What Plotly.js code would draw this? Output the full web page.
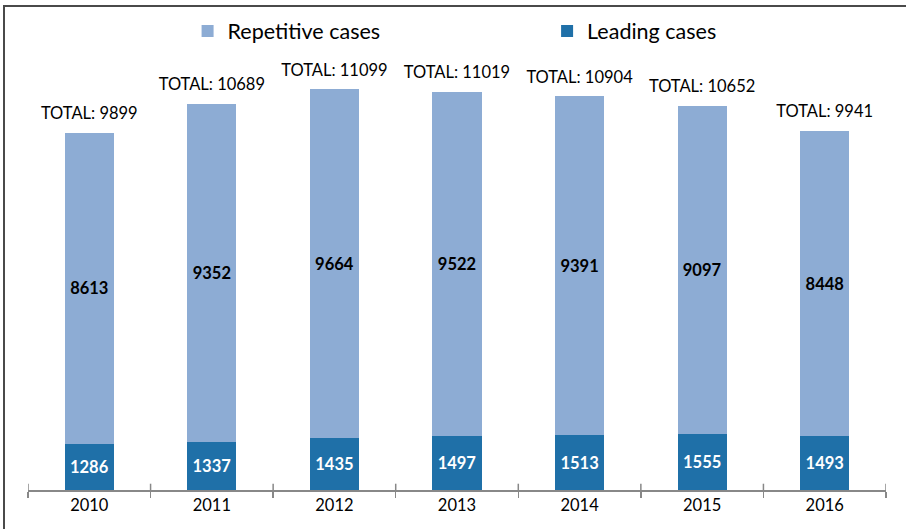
<!DOCTYPE html>
<html>
<head>
<meta charset="utf-8">
<script src="https://cdn.plot.ly/plotly-3.0.1.min.js"></script>
<style>
  body { margin: 0; background: #fff; }
  #graph { position: absolute; left: 0; top: 0; width: 906px; height: 529px; }
  #frame { position: absolute; left: 3px; top: 5px; width: 903px; height: 524px;
           border-top: 2px solid #4a4a4a; border-left: 2px solid #4a4a4a; pointer-events: none; }
</style>
</head>
<body>
<div id="graph"></div>
<div id="frame"></div>
<script>
const years = ['2010', '2011', '2012', '2013', '2014', '2015', '2016'];
const leading = [1286, 1337, 1435, 1497, 1513, 1555, 1493];
const repetitive = [8613, 9352, 9664, 9522, 9391, 9097, 8448];

const totals = years.map((y, i) => leading[i] + repetitive[i]);
const font = 'Lato, "Open Sans", sans-serif';

const traces = [
  {
    x: years, y: leading, name: 'Leading cases', type: 'bar', legend: 'legend2',
    marker: { color: '#1f70a8' },
    text: leading.map(String), textposition: 'inside', insidetextanchor: 'middle',
    textfont: { family: font, size: 16.5, color: '#ffffff', weight: 'bold' },
    hoverinfo: 'none'
  },
  {
    x: years, y: repetitive, name: 'Repetitive cases', type: 'bar', legend: 'legend',
    marker: { color: '#8dacd4' },
    text: repetitive.map(String), textposition: 'inside', insidetextanchor: 'middle',
    textfont: { family: font, size: 16.5, color: '#000000', weight: 'bold' },
    hoverinfo: 'none'
  },
  // "TOTAL" labels above each stack; the invisible marker lifts the text a bit
  {
    x: years, y: totals, type: 'scatter', mode: 'markers+text', showlegend: false,
    marker: { size: 14, opacity: 0 },
    text: totals.map(t => 'TOTAL: ' + t), textposition: 'top center',
    textfont: { family: font, size: 16.5, color: '#000' },
    cliponaxis: false, hoverinfo: 'none'
  }
];

// little upward tick marks at the category boundaries
const shapes = years.concat(['']).map((y, i) => ({
  type: 'line', xref: 'x', yref: 'paper',
  x0: i - 0.5, x1: i - 0.5, y0: 0, y1: 0.014,
  line: { color: '#888', width: 1.5 }
}));

const legendFont = { family: font, size: 21.5, color: '#000' };

const layout = {
  width: 906, height: 529,
  margin: { l: 28, r: 20, t: 40, b: 39 },
  paper_bgcolor: '#fff', plot_bgcolor: '#fff',
  barmode: 'stack', bargap: 0.6,
  font: { family: font, color: '#000' },
  xaxis: {
    type: 'category', range: [-0.5, 6.5], tickson: 'boundaries',
    ticks: 'outside', ticklen: 6, tickcolor: '#888', tickwidth: 1.5,
    showline: true, linecolor: '#888', linewidth: 1.5,
    showgrid: false, zeroline: false,
    tickfont: { family: font, size: 16.5, color: '#000' }
  },
  yaxis: { range: [0, 12441], visible: false, showgrid: false, zeroline: false },
  legend: {
    orientation: 'h', x: 0.186, xanchor: 'left', y: 1.02, yanchor: 'middle',
    font: legendFont, bgcolor: 'rgba(0,0,0,0)'
  },
  legend2: {
    orientation: 'h', x: 0.605, xanchor: 'left', y: 1.02, yanchor: 'middle',
    font: legendFont, bgcolor: 'rgba(0,0,0,0)'
  },
  shapes: shapes,
  showlegend: true
};

Plotly.newPlot('graph', traces, layout, { staticPlot: true });
</script>
</body>
</html>
